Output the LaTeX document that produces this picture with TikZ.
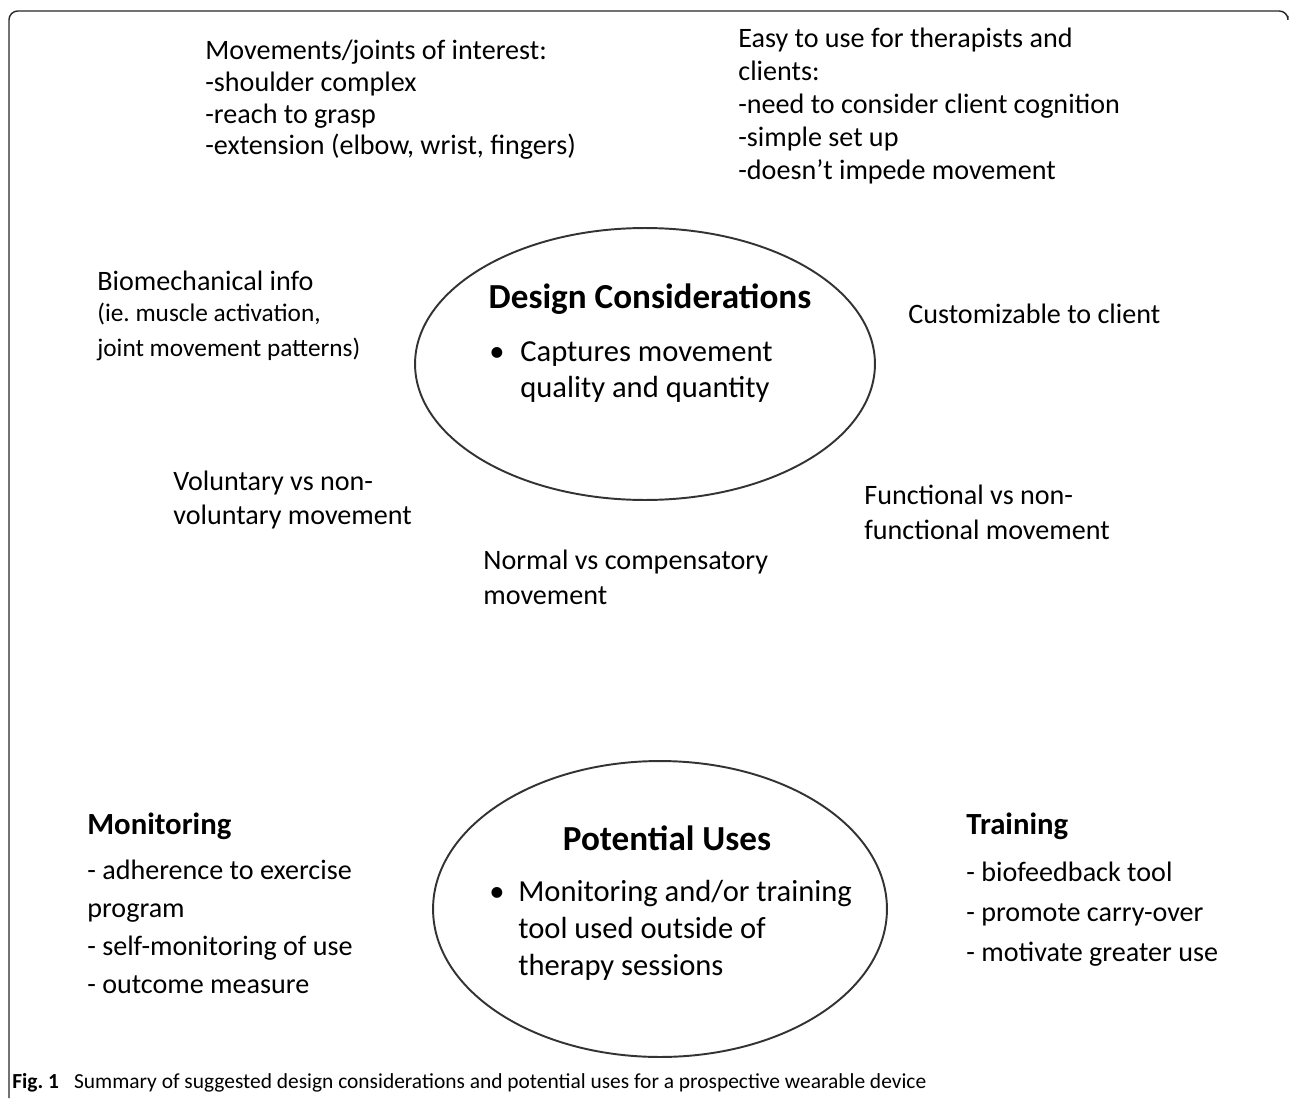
\documentclass[tikz,border=0pt]{standalone}
\usepackage{fontspec}
\setmainfont{Carlito}
\usetikzlibrary{shapes.geometric}
\frenchspacing

\begin{document}
\begin{tikzpicture}[x=0.02cm,y=-0.02cm,
  txt/.style={anchor=base west,inner sep=0pt,align=left,font=\fontsize{16}{18.5}\selectfont},
  small/.style={anchor=base west,inner sep=0pt,align=left,font=\fontsize{14.4}{19.5}\selectfont},
  big/.style={anchor=base west,inner sep=0pt,align=left,font=\fontsize{17.4}{21.5}\selectfont},
  head/.style={anchor=base,inner sep=0pt,font=\bfseries\fontsize{20}{24}\selectfont},
  subhead/.style={anchor=base west,inner sep=0pt,font=\bfseries\fontsize{17.5}{21}\selectfont},
  oval/.style={draw=black!80,line width=1.1pt,ellipse,inner sep=0pt}]

  \useasboundingbox (0,0) rectangle (1290,1098);
  \draw[black!85,line width=0.8pt,rounded corners=5pt] (9,1098) |- (1288,11) -- (1288,16);

  % upper oval and its notes (multi-line nodes sit on their last baseline)
  \node[oval,minimum width=9.2cm,minimum height=5.44cm] (design) at (645,364) {};
  \node[head] (designT) at (650,308) {Design Considerations};
  \node[big,anchor=base] (designB) at (497,361) {\textbullet};
  \node[big,font=\fontsize{17.4}{20.4}\selectfont] (designL) at (520,397) {Captures movement\\quality and quantity};

  \node[txt,font=\fontsize{16}{18.1}\selectfont] (joints) at (205,155) {Movements/joints of interest:\\-shoulder complex\\-reach to grasp\\-extension (elbow, wrist, fingers)};
  \node[txt,font=\fontsize{16}{18.7}\selectfont] (easy) at (738,179) {Easy to use for therapists and\\clients:\\-need to consider client cognition\\-simple set up\\-doesn't impede movement};
  \node[txt] (bio) at (97,290) {Biomechanical info};
  \node[small] (bioL) at (97,356) {(ie. muscle activation,\\joint movement patterns)};
  \node[txt] (custom) at (908,323) {Customizable to client};
  \node[txt,font=\fontsize{16}{19.3}\selectfont] (volun) at (173,524) {Voluntary vs non-\\voluntary movement};
  \node[txt,font=\fontsize{16}{19.8}\selectfont] (funct) at (864,539) {Functional vs non-\\functional movement};
  \node[txt,font=\fontsize{16}{19.8}\selectfont] (normal) at (483,604) {Normal vs compensatory\\movement};

  % lower oval and its notes
  \node[oval,minimum width=9.08cm,minimum height=5.92cm] (uses) at (660,909) {};
  \node[head] (usesT) at (667,850) {Potential Uses};
  \node[big,anchor=base] (usesB) at (497,901) {\textbullet};
  \node[big,font=\fontsize{17.4}{21}\selectfont] (usesL) at (518,975) {Monitoring and/or training\\tool used outside of\\therapy sessions};

  \node[subhead] (monit) at (87,834) {Monitoring};
  \node[txt,font=\fontsize{16}{21.5}\selectfont] (monitL) at (87,993) {- adherence to exercise\\program\\- self-monitoring of use\\- outcome measure};
  \node[subhead] (train) at (966,834) {Training};
  \node[txt,font=\fontsize{16}{22.7}\selectfont] (trainL) at (966,961) {- biofeedback tool\\- promote carry-over\\- motivate greater use};

  \node[anchor=base west,inner sep=0pt,font=\fontsize{12.2}{14}\selectfont] (caption) at (12,1088)
    {\textbf{Fig. 1}\hspace{0.7em}Summary of suggested design considerations and potential uses for a prospective wearable device};

\end{tikzpicture}
\end{document}
